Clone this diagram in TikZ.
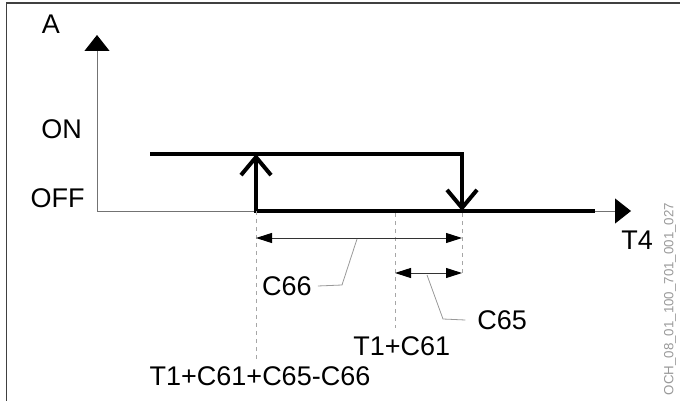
\documentclass[tikz,border=0pt]{standalone}
\usepackage{fontspec}
\setmainfont{Liberation Sans}
\usetikzlibrary{arrows.meta}
\tikzset{
  figlabel/.style={inner sep=0pt, outer sep=0pt, font=\fontsize{27}{30}\selectfont},
  figaxis/.style={line width=0.9pt, black!55, -{Triangle[length=16pt, width=25pt, color=black]}},
  figstep/.style={line width=4pt, black},
  figswitch/.style={figstep, -{Straight Barb[length=18pt, width=30pt]}},
  figguide/.style={line width=0.8pt, black!35, dash pattern=on 4pt off 4pt},
  figdim/.style={line width=1pt, black!80, {Triangle[length=16pt, width=10pt, color=black]}-{Triangle[length=16pt, width=10pt, color=black]}},
  figleader/.style={line width=0.8pt, black!40},
}

\begin{document}
\begin{tikzpicture}[x=1pt, y=-1pt]
  \useasboundingbox (0,0) rectangle (680,401);
  \draw[black!75, line width=1.3pt] (6.5,401) -- (6.5,3) -- (680,3);
  % Achsen
  \coordinate (o) at (97,211);
  \coordinate (ytip) at (97,35);
  \coordinate (xtip) at (631,211);
  \draw[figaxis] (o) -- (ytip);
  \draw[figaxis] (o) -- (xtip);
  \node[figlabel] (lblA) at (51,24.5) {A};
  \node[figlabel] (lblOn) at (61.7,129) {ON};
  \node[figlabel] (lblOff) at (57.7,198) {OFF};
  \node[figlabel] (lblT) at (637,240) {T4};
  % Schaltkurve
  \coordinate (onL) at (150,154);
  \coordinate (onR) at (462,154);
  \coordinate (offR) at (462,211);
  \coordinate (offL) at (256,211);
  \coordinate (upT) at (256,154);
  \coordinate (offE) at (595,211);
  \draw[figstep] (onL) -- ([xshift=2pt]onR);
  \draw[figswitch] (onR) -- (offR);
  \draw[figstep] ([xshift=-2pt]offL) -- (offE);
  \draw[figswitch] (offL) -- (upT);
  % Hilfslinien
  \coordinate (g1) at (256,360);
  \coordinate (g2a) at (395,213);
  \coordinate (g2) at (395,328);
  \coordinate (g3a) at (462,213);
  \coordinate (g3) at (462,276);
  \draw[figguide] (offL) -- (g1);
  \draw[figguide] (g2a) -- (g2);
  \draw[figguide] (g3a) -- (g3);
  % Bemassung
  \coordinate (d66L) at (256,238);
  \coordinate (d66R) at (462,238);
  \coordinate (d65L) at (395,273);
  \coordinate (d65R) at (462,273);
  \draw[figdim] (d66L) -- (d66R);
  \draw[figdim] (d65L) -- (d65R);
  \node[figlabel] (lblC66) at (287,286) {C66};
  \node[figlabel, anchor=west] (lblC65) at (477.3,320) {C65};
  \node[figlabel] (lblT61) at (401.8,346) {T1+C61};
  \node[figlabel] (lblSum) at (260,376.7) {T1+C61+C65-C66};
  \draw[figleader] (357,239) -- (342,285) -- ([xshift=6pt]lblC66.east);
  \draw[figleader] (427,275) -- (443,319) -- ([xshift=-12pt]lblC65.west);
  \node[rotate=90, inner sep=0pt, black!40, font=\fontsize{13.3}{15}\selectfont] (code) at (670,299) {OCH\_08\_01\_100\_701\_001\_027};
\end{tikzpicture}
\end{document}
